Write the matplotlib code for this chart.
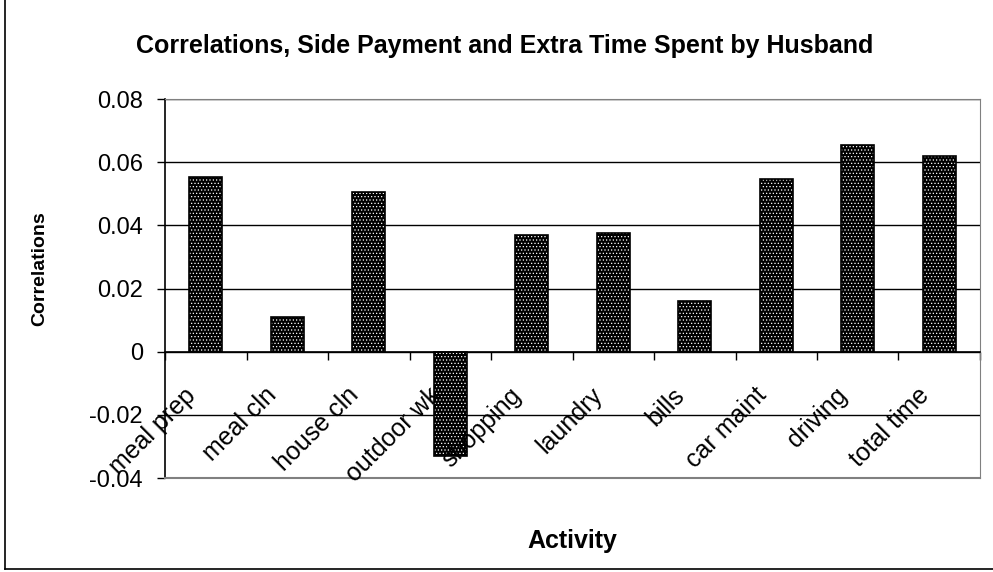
import matplotlib
matplotlib.use('Agg')
import matplotlib.pyplot as plt
from matplotlib.lines import Line2D
from matplotlib.transforms import offset_copy

plt.rcParams['font.family'] = ['Liberation Sans', 'DejaVu Sans']
plt.rcParams['hatch.linewidth'] = 0.5

# data
activities = ['meal prep', 'meal cln', 'house cln', 'outdoor wk', 'shopping',
              'laundry', 'bills', 'car maint', 'driving', 'total time']
correlations = [0.0553, 0.0110, 0.0507, -0.0329, 0.0369,
                0.0377, 0.0160, 0.0547, 0.0653, 0.0621]
yticks = [-0.04, -0.02, 0, 0.02, 0.04, 0.06, 0.08]
ytick_labels = ['-0.04', '-0.02', '0', '0.02', '0.04', '0.06', '0.08']

fig = plt.figure(figsize=(9.93, 5.72), dpi=100)
ax = fig.add_axes([0.1662, 0.1643, 0.8207, 0.6626])

x = list(range(len(activities)))
# dotted fill: black bars with white dot hatch, then black outline
ax.bar(x, correlations, width=0.4, color='black', edgecolor='white',
       hatch='.....', linewidth=0, zorder=3)
ax.bar(x, correlations, width=0.4, color='none', edgecolor='black',
       linewidth=1.2, zorder=4)

ax.set_xlim(-0.5, len(activities) - 0.5)
ax.set_ylim(yticks[0], yticks[-1])
ax.set_yticks(yticks)
ax.set_yticklabels(ytick_labels)
ax.tick_params(axis='y', direction='out', length=6, width=1, labelsize=17,
               pad=10, colors='black')
ax.yaxis.grid(True, color='black', linewidth=1, zorder=1)

# category axis sits at zero, ticks on category boundaries
ax.spines['bottom'].set_position(('data', 0))
ax.spines['bottom'].set_linewidth(1.2)
ax.spines['bottom'].set_zorder(5)
ax.set_xticks([i - 0.5 for i in range(len(activities) + 1)])
ax.set_xticklabels([])
ax.tick_params(axis='x', direction='out', length=6, width=1)
ax.spines['left'].set_linewidth(1.2)
ax.spines['top'].set_color('#808080')
ax.spines['right'].set_color('#808080')
ax.axhline(yticks[0], color='#808080', linewidth=1.5, zorder=5, clip_on=False)

lab_tr = offset_copy(ax.transData, fig=fig, x=-14, y=-40, units='dots')
for i, name in enumerate(activities):
    ax.text(i, 0, name, transform=lab_tr, rotation=45, rotation_mode='anchor',
            ha='right', va='center', fontsize=18, zorder=6)

fig.text(0.5086, 0.9073, 'Correlations, Side Payment and Extra Time Spent by Husband',
         ha='center', va='baseline', fontsize=18, fontweight='bold')
fig.text(0.040, 0.53, 'Correlations', rotation=90, ha='center', va='center',
         fontsize=14, fontweight='bold')
fig.text(0.576, 0.042, 'Activity', ha='center', va='baseline',
         fontsize=18, fontweight='bold')

# chart area border (only left and bottom visible in the crop)
fig.add_artist(Line2D([0.005, 0.005], [0.005, 1.0], color='black', linewidth=1.2))
fig.add_artist(Line2D([0.005, 1.0], [0.005, 0.005], color='black', linewidth=1.2))

fig.savefig('out.png', dpi=100, facecolor='white')
